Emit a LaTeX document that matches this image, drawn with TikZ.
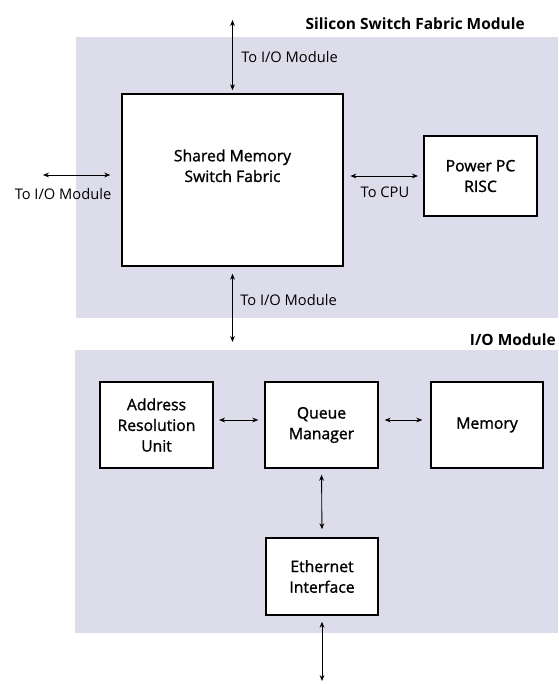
\documentclass[tikz,border=0pt]{standalone}
\usepackage{fontspec}
\setmainfont{Open Sans}
\newfontfamily\boxfont{Open Sans}[FakeBold=1.3]
\usetikzlibrary{arrows.meta}
\definecolor{panelfill}{RGB}{221,220,234}

\begin{document}
\begin{tikzpicture}[x=0.75pt,y=-0.75pt,
  every node/.style={inner sep=0pt},
  lbl/.style={font=\fontsize{11}{13}\selectfont},
  ttl/.style={font=\bfseries\fontsize{11.6}{13}\selectfont},
  unit/.style={draw=black, line width=1.1pt, fill=white, align=center,
    font=\boxfont\fontsize{11.8}{15.5}\selectfont},
  link/.style={line width=0.65pt,
    {Stealth[length=4.5pt,width=3.6pt]}-{Stealth[length=4.5pt,width=3.6pt]}}]
\useasboundingbox (0,0) rectangle (558,684);

% module panels
\fill[panelfill] (76,37) rectangle (558,318);
\fill[panelfill] (75,350) rectangle (558,633);

% functional blocks
\node[unit, minimum width=165.75pt, minimum height=129pt] (sm) at (232.5,180) {Shared Memory\\Switch Fabric\\[6pt]};
\node[unit, minimum width=84.75pt, minimum height=60pt] (ppc) at (480.5,176) {Power PC\\RISC};
\node[unit, minimum width=84.75pt, minimum height=64.5pt] (aru) at (156.5,425) {Address\\Resolution\\Unit};
\node[unit, minimum width=84.75pt, minimum height=64.5pt] (qm) at (321.5,425) {Queue\\Manager};
\node[unit, minimum width=84pt, minimum height=64.5pt] (mem) at (487,425) {Memory};
\node[unit, minimum width=84pt, minimum height=57.75pt] (eth) at (322,576.5) {Ethernet\\Interface};

% free ends of external links
\coordinate (topend) at (232.5,20);
\coordinate (lftend) at (43,175);
\coordinate (midend) at (232.5,342);
\coordinate (botend) at (322,681);

% connectors
\draw[link, shorten >=2.25pt] (topend) -- (sm.north);
\draw[link, shorten >=8.25pt] (lftend) -- (sm.west |- lftend);
\draw[link, shorten <=5pt, shorten >=4pt] (sm.east |- ppc.west) -- (ppc.west);
\draw[link, shorten <=5.25pt] (sm.south) -- (midend);
\draw[link, shorten <=4pt, shorten >=4.5pt] ([yshift=3.75pt]aru.east) -- ([yshift=3.75pt]qm.west);
\draw[link, shorten <=4.5pt, shorten >=6pt] ([yshift=3.75pt]qm.east) -- ([yshift=3.75pt]mem.west);
\draw[link, shorten <=4.5pt, shorten >=6pt] (qm.south) -- (eth.north);
\draw[link, shorten <=4.5pt] (eth.south) -- (botend);

% labels
\node[lbl, anchor=west] (lbltop) at (241,57) {To I/O Module};
\node[lbl] (lbllft) at (63,194) {To I/O Module};
\node[lbl] (lblcpu) at (385,192) {To CPU};
\node[lbl, anchor=west] (lblbot) at (240,300) {To I/O Module};
\node[ttl, anchor=east] (ttlsw) at (525,24) {Silicon Switch Fabric Module};
\node[ttl, anchor=east] (ttlio) at (556,340) {I/O Module};
\end{tikzpicture}
\end{document}
